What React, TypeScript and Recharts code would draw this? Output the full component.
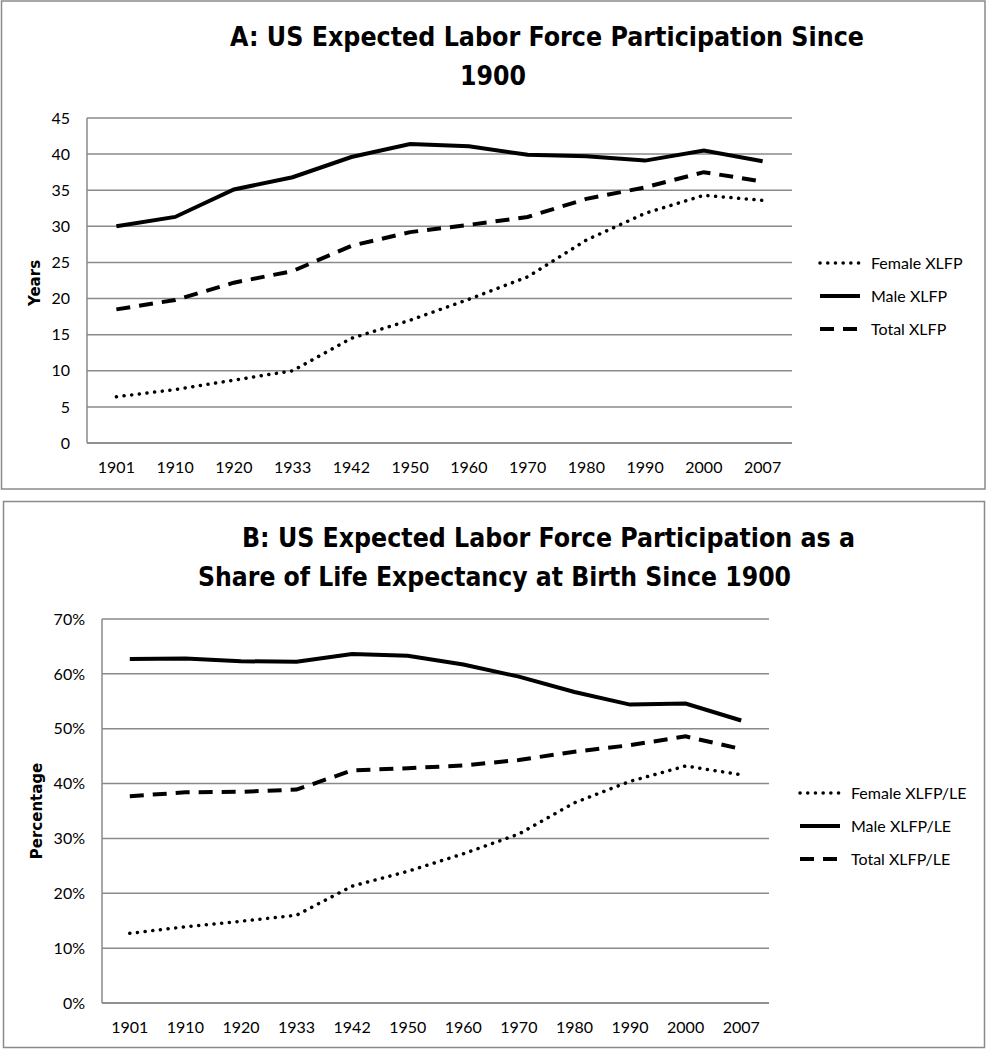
import React from 'react';
import { LineChart, Line, XAxis, YAxis, CartesianGrid, Legend } from 'recharts';

const years = ['1901', '1910', '1920', '1933', '1942', '1950', '1960', '1970', '1980', '1990', '2000', '2007'];

// Panel A: expected years in the labor force
const femaleXlfp = [6.4, 7.4, 8.7, 10.0, 14.5, 17.0, 19.9, 23.0, 28.1, 31.8, 34.3, 33.6];
const maleXlfp = [30.0, 31.3, 35.1, 36.8, 39.6, 41.4, 41.1, 39.9, 39.7, 39.1, 40.5, 39.0];
const totalXlfp = [18.5, 19.8, 22.2, 23.8, 27.3, 29.2, 30.2, 31.3, 33.8, 35.4, 37.5, 36.2];

// Panel B: share of life expectancy at birth (%)
const femaleShare = [12.7, 13.9, 14.9, 16.0, 21.3, 24.0, 27.2, 30.8, 36.5, 40.4, 43.2, 41.6];
const maleShare = [62.7, 62.8, 62.3, 62.2, 63.6, 63.3, 61.7, 59.5, 56.7, 54.4, 54.6, 51.5];
const totalShare = [37.7, 38.4, 38.5, 38.9, 42.4, 42.8, 43.3, 44.3, 45.8, 47.0, 48.6, 46.3];

const yearTicks = [0, 5, 10, 15, 20, 25, 30, 35, 40, 45];
const shareTicks = [0, 10, 20, 30, 40, 50, 60, 70];

const dataA = years.map((year, i) => ({
  year,
  female: femaleXlfp[i],
  male: maleXlfp[i],
  total: totalXlfp[i],
}));

const dataB = years.map((year, i) => ({
  year,
  female: femaleShare[i],
  male: maleShare[i],
  total: totalShare[i],
}));

const FONT = "Lato, 'Open Sans', sans-serif";
const TITLE_FONT = "'Liberation Sans Narrow', 'DejaVu Sans Condensed', 'Open Sans', sans-serif";
const GRID = '#8a8a8a';

const lineStyles: Record<string, any> = {
  female: { strokeWidth: 3.5, strokeDasharray: '0.1 7.6', strokeLinecap: 'round' },
  male: { strokeWidth: 4, strokeLinecap: 'butt' },
  total: { strokeWidth: 4, strokeDasharray: '14 9', strokeLinecap: 'butt' },
};

const LegendBox = (props: any) => {
  const { payload = [] } = props;
  return (
    <div style={{ fontFamily: FONT, fontSize: 16, color: '#000', whiteSpace: 'nowrap' }}>
      {payload.map((p: any) => (
        <div key={p.dataKey} style={{ display: 'flex', alignItems: 'center', height: 33 }}>
          <svg width={44} height={10}>
            <line x1={2} x2={42} y1={5} y2={5} stroke="#000" {...lineStyles[p.dataKey]} />
          </svg>
          <span style={{ marginLeft: 9 }}>{p.value}</span>
        </div>
      ))}
    </div>
  );
};

const Panel = ({ data, top, height, width, border, plotLeft, plotRight, plotTop, plotBottom, yTicks, yMax, tickFmt, yLabel, names, legendPos, titles }: any) => {
  const yAxisWidth = 60;
  const half = (plotRight - plotLeft) / years.length / 2;
  return (
    <div style={{ position: 'absolute', left: 0, top, width, height }}>
      <LineChart
        width={width}
        height={height}
        data={data}
        margin={{ left: plotLeft - yAxisWidth, right: width - plotRight, top: plotTop, bottom: height - plotBottom - 30 }}
        style={{ fontFamily: FONT }}
      >
        <CartesianGrid vertical={false} stroke={GRID} strokeWidth={1.5} />
        <XAxis
          dataKey="year"
          height={30}
          padding={{ left: half, right: half }}
          axisLine={{ stroke: GRID, strokeWidth: 1.5 }}
          tickLine={false}
          tickSize={0}
          tickMargin={19}
          tick={{ fill: '#000', fontSize: 16 }}
          interval={0}
        />
        <YAxis
          width={yAxisWidth}
          domain={[0, yMax]}
          ticks={yTicks}
          interval={0}
          tickFormatter={tickFmt}
          axisLine={{ stroke: GRID, strokeWidth: 1.5 }}
          tickLine={false}
          tickSize={0}
          tickMargin={17}
          tick={{ fill: '#000', fontSize: 16 }}
        />
        <Legend
          layout="horizontal"
          verticalAlign="middle"
          align="center"
          content={<LegendBox />}
          wrapperStyle={{ left: legendPos.x, top: legendPos.y, width: 185 }}
        />
        <Line dataKey="female" name={names[0]} stroke="#000" dot={false} isAnimationActive={false} {...lineStyles.female} />
        <Line dataKey="male" name={names[1]} stroke="#000" dot={false} isAnimationActive={false} {...lineStyles.male} />
        <Line dataKey="total" name={names[2]} stroke="#000" dot={false} isAnimationActive={false} {...lineStyles.total} />
      </LineChart>
      <svg width={width} height={height} style={{ position: 'absolute', left: 0, top: 0, pointerEvents: 'none' }}>
        <rect x={border.x} y={border.y} width={border.w} height={border.h} fill="none" stroke="#8a8a8a" strokeWidth={1.5} />
        {titles.map((t: any) => (
          <text
            key={t.text}
            x={t.x}
            y={t.y}
            textLength={t.w}
            lengthAdjust="spacingAndGlyphs"
            fontFamily={TITLE_FONT}
            fontWeight="bold"
            fontSize={27}
            fill="#000"
          >
            {t.text}
          </text>
        ))}
        <text
          transform={`translate(${yLabel.x}, ${yLabel.y}) rotate(-90)`}
          textAnchor="middle"
          fontFamily="'DejaVu Sans', sans-serif"
          fontWeight="bold"
          fontSize={15}
          fill="#000"
        >
          {yLabel.text}
        </text>
      </svg>
    </div>
  );
};

export default function App() {
  return (
    <div style={{ position: 'relative', width: 987, height: 1050, background: '#fff' }}>
      <style>{'html, body { margin: 0; padding: 0; overflow: hidden; }'}</style>
      <Panel
        data={dataA}
        top={0}
        width={987}
        height={490}
        border={{ x: 1.5, y: 1, w: 983.5, h: 488 }}
        plotLeft={87}
        plotRight={792}
        plotTop={118}
        plotBottom={443}
        yTicks={yearTicks}
        yMax={45}
        tickFmt={(v: number) => String(v)}
        yLabel={{ text: 'Years', x: 40, y: 283 }}
        names={['Female XLFP', 'Male XLFP', 'Total XLFP']}
        legendPos={{ x: 818, y: 246 }}
        titles={[
          { text: 'A: US Expected Labor Force Participation Since', x: 230, y: 46, w: 634 },
          { text: '1900', x: 460, y: 85, w: 66 },
        ]}
      />
      <Panel
        data={dataB}
        top={500}
        width={987}
        height={550}
        border={{ x: 3.5, y: 1.5, w: 981, h: 546 }}
        plotLeft={102}
        plotRight={769}
        plotTop={119}
        plotBottom={503}
        yTicks={shareTicks}
        yMax={70}
        tickFmt={(v: number) => `${v}%`}
        yLabel={{ text: 'Percentage', x: 42, y: 311 }}
        names={['Female XLFP/LE', 'Male XLFP/LE', 'Total XLFP/LE']}
        legendPos={{ x: 798, y: 276 }}
        titles={[
          { text: 'B: US Expected Labor Force Participation as a', x: 242, y: 47, w: 613 },
          { text: 'Share of Life Expectancy at Birth Since 1900', x: 198, y: 86, w: 593 },
        ]}
      />
    </div>
  );
}
